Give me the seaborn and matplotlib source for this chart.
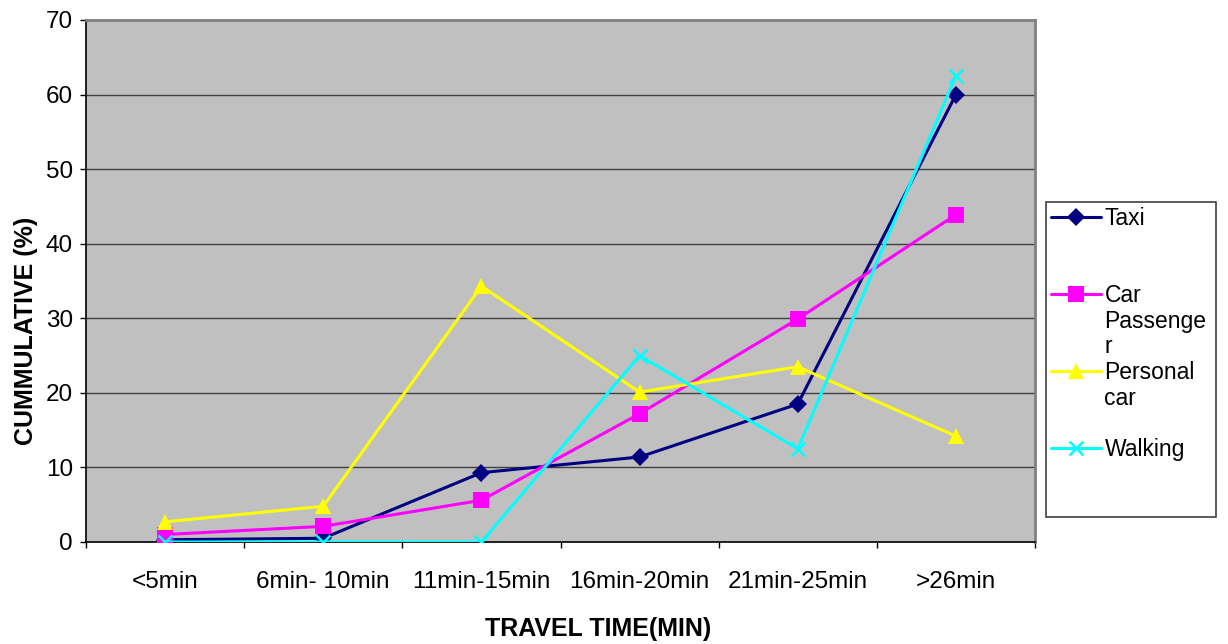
import seaborn as sns
import pandas as pd
import matplotlib.pyplot as plt
from matplotlib.lines import Line2D

# Data
categories = ['<5min', '6min- 10min', '11min-15min', '16min-20min', '21min-25min', '>26min']
taxi = [0.3, 0.5, 9.3, 11.4, 18.5, 60.0]
car_passenger = [1.0, 2.1, 5.6, 17.2, 29.9, 43.9]
personal_car = [2.7, 4.8, 34.3, 20.1, 23.5, 14.2]
walking = [0.0, 0.0, 0.0, 25.0, 12.5, 62.5]

series_names = ['Taxi', 'Car Passenger', 'Personal car', 'Walking']
series_values = [taxi, car_passenger, personal_car, walking]

# Long-form table for seaborn
df = pd.DataFrame({
    'time': categories * len(series_names),
    'pos': list(range(len(categories))) * len(series_names),
    'value': sum(series_values, []),
    'mode': [n for n in series_names for _ in categories],
})

colors = {'Taxi': '#000080', 'Car Passenger': '#FF00FF',
          'Personal car': '#FFFF00', 'Walking': '#00FFFF'}
markers = {'Taxi': 'D', 'Car Passenger': 's', 'Personal car': '^', 'Walking': 'x'}
msizes = {'Taxi': 9, 'Car Passenger': 11, 'Personal car': 11, 'Walking': 10}

sns.set_style('white')
plt.rcParams['font.family'] = ['Liberation Sans', 'DejaVu Sans']
plt.rcParams['text.color'] = 'black'
plt.rcParams['axes.labelcolor'] = 'black'
plt.rcParams['xtick.color'] = 'black'
plt.rcParams['ytick.color'] = 'black'

fig = plt.figure(figsize=(12.28, 6.44), dpi=100)
ax = fig.add_axes([86 / 1228, 1 - 542 / 644, 949 / 1228, 522 / 644])
ax.set_facecolor('#C0C0C0')


def mew(name):
    return 1.8 if name == 'Walking' else 0


for name in series_names:
    sub = df[df['mode'] == name]
    sns.lineplot(data=sub, x='pos', y='value', ax=ax, color=colors[name],
                 marker=markers[name], markersize=msizes[name],
                 markeredgecolor=colors[name], markeredgewidth=mew(name),
                 linewidth=2.2, legend=False, zorder=3)

# Axes and grid
ax.set_xlim(-0.5, len(categories) - 0.5)
ax.set_ylim(0, 70)
ax.set_yticks(range(0, 71, 10))
for y in range(10, 70, 10):
    ax.axhline(y, color='#404040', linewidth=1, zorder=1)

ax.set_xticks([i - 0.5 for i in range(len(categories) + 1)])
ax.set_xticklabels([])
ax.set_xticks(range(len(categories)), minor=True)
ax.set_xticklabels(categories, minor=True)
ax.tick_params(axis='x', which='major', direction='out', length=4.5, width=1, bottom=True)
ax.tick_params(axis='x', which='minor', length=0, pad=21, labelsize=17.5)
ax.tick_params(axis='y', direction='out', length=4.5, width=1, left=True, pad=5, labelsize=17.5)

for side in ['left', 'bottom']:
    ax.spines[side].set_color('black')
    ax.spines[side].set_linewidth(1.2)
for side in ['top', 'right']:
    ax.spines[side].set_color('#808080')
    ax.spines[side].set_linewidth(2)

ax.set_xlabel('TRAVEL TIME(MIN)', fontsize=18, fontweight='bold')
ax.set_ylabel('CUMMULATIVE (%)', fontsize=18, fontweight='bold')
ax.xaxis.set_label_coords(0.54, -0.143)
ax.yaxis.set_label_coords(-0.051, 0.405)

# Legend in Excel style: wrapped labels, marker aligned with first line
def handle(name):
    return Line2D([], [], color=colors[name], marker=markers[name], markersize=msizes[name],
                  markeredgecolor=colors[name], markeredgewidth=mew(name), linewidth=2.2)


blank = Line2D([], [], linestyle='none')
leg_handles = [handle('Taxi'), blank, blank,
               handle('Car Passenger'), blank, blank,
               handle('Personal car'), blank, blank,
               handle('Walking'), blank, blank]
leg_labels = ['Taxi', '', '',
              'Car', 'Passenge', 'r',
              'Personal', 'car', '',
              'Walking', '', '']
leg = fig.legend(leg_handles, leg_labels, loc='upper left',
                 bbox_to_anchor=(1046 / 1228, 1 - 510 / 644, 170 / 1228, 308 / 644),
                 mode='expand', fontsize=16.5, frameon=True, fancybox=False, framealpha=1,
                 edgecolor='#404040', handlelength=2.2, handletextpad=0.15,
                 labelspacing=0.12, borderpad=0.2, borderaxespad=0)
leg.get_frame().set_linewidth(1.2)

fig.savefig('out.png', dpi=100, facecolor='white')
